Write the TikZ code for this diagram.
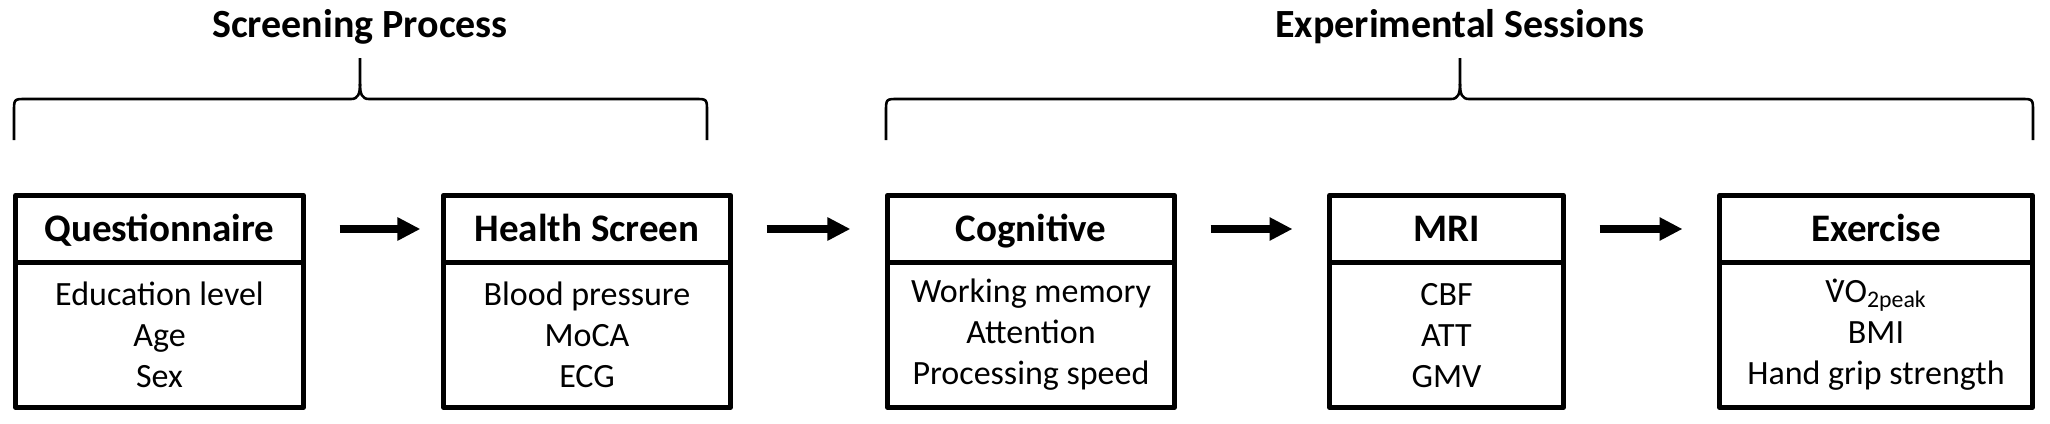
\documentclass[tikz,border=0pt]{standalone}
\usepackage{fontspec}
\setmainfont{Carlito}
\usetikzlibrary{arrows.meta}

\begin{document}
\begin{tikzpicture}[x=0.5pt,y=-0.5pt,
        head/.style={minimum height=33.8pt, text height=12pt, text depth=0pt, font=\bfseries\fontsize{19.5}{23}\selectfont},
        list/.style={minimum height=72.3pt, anchor=north, align=center, font=\fontsize{17}{20.5}\selectfont}]
        \useasboundingbox (0,0) rectangle (2050,423);

        \node[font=\bfseries\fontsize{20}{24}\selectfont, anchor=base] (screening) at (360,37) {Screening Process};
        \node[font=\bfseries\fontsize{20}{24}\selectfont, anchor=base] (sessions) at (1460,37) {Experimental Sessions};

        \begin{scope}[every node/.style={draw=black, line width=2.4pt, line join=round, inner sep=0pt, outer sep=0pt}]
            \node[head, minimum width=144pt] (quest) at (159.5,229) {Questionnaire};
            \node[list, minimum width=144pt] (questlist) at (quest.south) {Education level\\Age\\Sex};

            \node[head, minimum width=143.6pt] (health) at (587,229) {Health Screen};
            \node[list, minimum width=143.6pt] (healthlist) at (health.south) {Blood pressure\\MoCA\\ECG};

            \node[head, minimum width=143.6pt] (cog) at (1031,229) {Cognitive};
            \node[list, minimum width=143.6pt] (coglist) at (cog.south) {Working memory\\Attention\\Processing speed};

            \node[head, minimum width=117pt] (mri) at (1446.5,229) {MRI};
            \node[list, minimum width=117pt] (mrilist) at (mri.south) {CBF\\ATT\\GMV};

            \node[head, minimum width=156.5pt] (exer) at (1876,229) {Exercise};
            \node[list, minimum width=156.5pt] (exerlist) at (exer.south) {\ooalign{V\cr\hidewidth\char"02D9\hidewidth\cr}O\textsubscript{2peak}\\BMI\\Hand grip strength};
        \end{scope}

        \begin{scope}[every edge/.style={draw, line width=4pt, -{Triangle[length=11.5pt,width=11pt]}, shorten <=18pt, shorten >=18.5pt}]
            \path (quest) edge [shorten >=11.5pt] (health);
            \path (health) edge (cog);
            \path (cog) edge (mri);
            \path (mri) edge (exer);
        \end{scope}

        % braces
        \draw[line width=1.3pt] (14,140) -- (14,112) .. controls (14,99) .. (26,99) -- (351,99)
            .. controls (358,99) and (360,94) .. (360,84) -- (360,58);
        \draw[line width=1.3pt] (360,84) .. controls (360,94) and (362,99) .. (369,99) -- (695,99)
            .. controls (707,99) .. (707,112) -- (707,140);
        \draw[line width=1.3pt] (886,140) -- (886,112) .. controls (886,99) .. (898,99) -- (1451,99)
            .. controls (1458,99) and (1460,94) .. (1460,84) -- (1460,58);
        \draw[line width=1.3pt] (1460,84) .. controls (1460,94) and (1462,99) .. (1469,99) -- (2021,99)
            .. controls (2033,99) .. (2033,112) -- (2033,140);
\end{tikzpicture}
\end{document}
